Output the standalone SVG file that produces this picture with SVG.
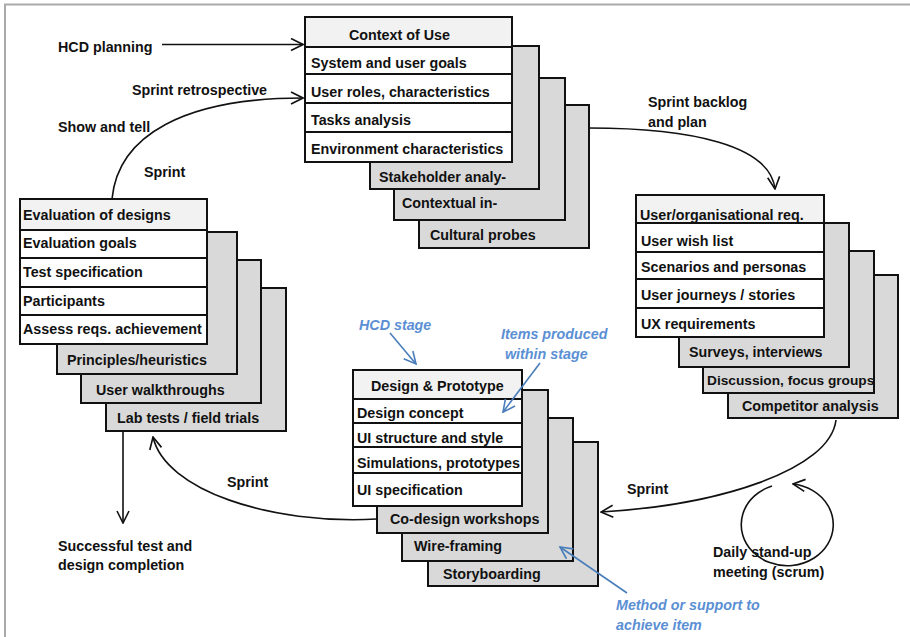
<svg xmlns="http://www.w3.org/2000/svg" width="910" height="637" viewBox="0 0 910 637">
<defs>
<style>
text{font-family:"Liberation Sans",Arial,sans-serif;font-weight:bold;font-size:14.3px;fill:#111}
.blue{fill:#5b8fd4;font-style:italic}
.card{fill:#d9d9d9;stroke:#111;stroke-width:2}
.row{fill:#fff;stroke:#111;stroke-width:2}
.head{fill:#f2f2f2;stroke:#111;stroke-width:2}
.con{fill:none;stroke:#111;stroke-width:1.6}
.bcon{fill:none;stroke:#4a7ebb;stroke-width:1.6}
</style>
<marker id="ah" viewBox="0 0 14 14" refX="13" refY="7" markerWidth="14" markerHeight="14" markerUnits="userSpaceOnUse" orient="auto">
<path d="M1,1 L13,7 L1,13" fill="none" stroke="#111" stroke-width="1.6"/>
</marker>
<marker id="bah" viewBox="0 0 14 14" refX="13" refY="7" markerWidth="14" markerHeight="14" markerUnits="userSpaceOnUse" orient="auto">
<path d="M1,1 L13,7 L1,13" fill="none" stroke="#4a7ebb" stroke-width="1.6"/>
</marker>
</defs>
<rect width="910" height="637" fill="#fff"/>
<path d="M5,637 V4.5 H910" fill="none" stroke="#aaa" stroke-width="2"/>

<g id="context-of-use">
<rect class="card" x="419" y="105" width="170" height="143"/>
<rect class="card" x="394" y="78" width="171" height="142"/>
<rect class="card" x="370" y="46" width="169" height="143"/>
<text x="379" y="182">Stakeholder analy-</text>
<text x="402" y="208">Contextual in-</text>
<text x="430" y="240">Cultural probes</text>
<rect class="head" x="305" y="17" width="207" height="30"/>
<rect class="row" x="305" y="47" width="207" height="27"/>
<rect class="row" x="305" y="74" width="207" height="29"/>
<rect class="row" x="305" y="103" width="207" height="29"/>
<rect class="row" x="305" y="132" width="207" height="30"/>
<text x="349" y="40">Context of Use</text>
<text x="311" y="68">System and user goals</text>
<text x="311" y="96.5">User roles, characteristics</text>
<text x="311" y="125">Tasks analysis</text>
<text x="311" y="153.5">Environment characteristics</text>
</g>

<g id="user-requirements">
<rect class="card" x="728" y="275" width="170" height="143"/>
<rect class="card" x="703" y="251" width="171" height="142"/>
<rect class="card" x="679" y="223" width="170" height="144"/>
<text x="689" y="357">Surveys, interviews</text>
<text x="707" y="385" style="font-size:13.7px">Discussion, focus groups</text>
<text x="742" y="411">Competitor analysis</text>
<rect class="head" x="636" y="195" width="188" height="28"/>
<rect class="row" x="636" y="223" width="188" height="29"/>
<rect class="row" x="636" y="252" width="188" height="27"/>
<rect class="row" x="636" y="279" width="188" height="29"/>
<rect class="row" x="636" y="308" width="188" height="29"/>
<text x="640" y="220">User/organisational req.</text>
<text x="641" y="246">User wish list</text>
<text x="641" y="272">Scenarios and personas</text>
<text x="641" y="300">User journeys / stories</text>
<text x="641" y="328.5">UX requirements</text>
</g>

<g id="design-prototype">
<rect class="card" x="428" y="442" width="170" height="144"/>
<rect class="card" x="402" y="418" width="171" height="143"/>
<rect class="card" x="377" y="390" width="171" height="143"/>
<text x="390" y="524">Co-design workshops</text>
<text x="414" y="551">Wire-framing</text>
<text x="443" y="578.5">Storyboarding</text>
<rect class="head" x="353" y="370" width="169" height="29"/>
<rect class="row" x="353" y="399" width="169" height="24"/>
<rect class="row" x="353" y="423" width="169" height="24"/>
<rect class="row" x="353" y="447" width="169" height="26"/>
<rect class="row" x="353" y="473" width="169" height="33"/>
<text x="371" y="391">Design &amp; Prototype</text>
<text x="357" y="417.5">Design concept</text>
<text x="357" y="442.5">UI structure and style</text>
<text x="357" y="467.5">Simulations, prototypes</text>
<text x="357" y="495">UI specification</text>
</g>

<g id="evaluation">
<rect class="card" x="106" y="288" width="180" height="143"/>
<rect class="card" x="81" y="260" width="180" height="143"/>
<rect class="card" x="57" y="232" width="180" height="142"/>
<text x="67" y="365">Principles/heuristics</text>
<text x="96" y="395">User walkthroughs</text>
<text x="117" y="423">Lab tests / field trials</text>
<rect class="head" x="20" y="199" width="187" height="31"/>
<rect class="row" x="20" y="230" width="187" height="28"/>
<rect class="row" x="20" y="258" width="187" height="29"/>
<rect class="row" x="20" y="287" width="187" height="28"/>
<rect class="row" x="20" y="315" width="187" height="29"/>
<text x="23" y="220">Evaluation of designs</text>
<text x="23" y="248">Evaluation goals</text>
<text x="23" y="277">Test specification</text>
<text x="23" y="306">Participants</text>
<text x="23" y="334">Assess reqs. achievement</text>
</g>

<g id="connectors">
<path class="con" d="M162,44.5 H303" marker-end="url(#ah)"/>
<path class="con" d="M112,199 C118,135 185,98 303,98" marker-end="url(#ah)"/>
<path class="con" d="M589,128 C690,128 770,145 775,189" marker-end="url(#ah)"/>
<path class="con" d="M836,420 C830,470 720,505 601,512" marker-end="url(#ah)"/>
<path class="con" d="M377,519 C270,525 165,490 153,437" marker-end="url(#ah)"/>
<path class="con" d="M123,431 V523" marker-end="url(#ah)"/>
<path class="con" d="M772,486 A46 41 0 1 0 793,484" marker-end="url(#ah)"/>
<path class="bcon" d="M390,333 L416,364" marker-end="url(#bah)"/>
<path class="bcon" d="M540,363 L503,412" marker-end="url(#bah)"/>
<path class="bcon" d="M627,593 L560,547" marker-end="url(#bah)"/>
</g>

<g id="labels">
<text x="58" y="51.5">HCD planning</text>
<text x="132" y="95">Sprint retrospective</text>
<text x="58" y="131.5">Show and tell</text>
<text x="144" y="177">Sprint</text>
<text x="648" y="107">Sprint backlog</text>
<text x="648" y="127">and plan</text>
<text x="627" y="494">Sprint</text>
<text x="227" y="487">Sprint</text>
<text x="713" y="557">Daily stand-up</text>
<text x="713" y="577">meeting (scrum)</text>
<text x="58" y="551">Successful test and</text>
<text x="58" y="570">design completion</text>
<text class="blue" x="359" y="329.5">HCD stage</text>
<text class="blue" x="501" y="338.5">Items produced</text>
<text class="blue" x="505" y="358.5">within stage</text>
<text class="blue" x="616" y="610">Method or support to</text>
<text class="blue" x="616" y="630">achieve item</text>
</g>
</svg>
